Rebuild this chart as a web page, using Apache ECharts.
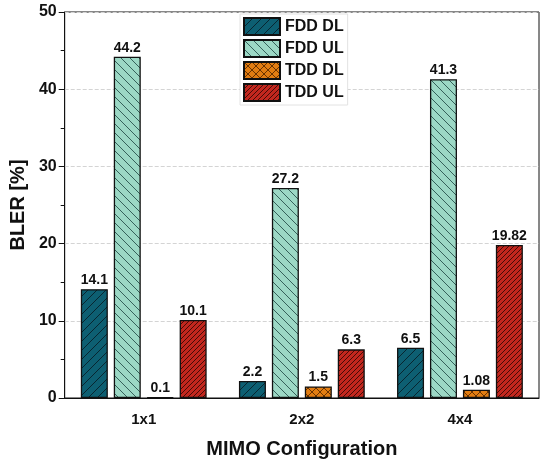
<!doctype html>
<html>
<head>
<meta charset="UTF-8">
<title>BLER</title>
<script src="https://cdn.jsdelivr.net/npm/echarts@6/dist/echarts.min.js"></script>
<style>
  html, body { margin: 0; padding: 0; background: #fff; }
  #chart { width: 550px; height: 466px; }
</style>
</head>
<body>
<div id="chart"></div>
<script>
// data
var categories = ['1x1', '2x2', '4x4'];
var seriesNames = ['FDD DL', 'FDD UL', 'TDD DL', 'TDD UL'];
var fddDl = [14.1, 2.2, 6.5];
var fddUl = [44.2, 27.2, 41.3];
var tddDl = [0.1, 1.5, 1.08];
var tddUl = [10.1, 6.3, 19.82];

// hatch tiles drawn on small canvases
function hatch(bg, line, size, dir) {
  var c = document.createElement('canvas');
  c.width = size; c.height = size;
  var g = c.getContext('2d');
  g.fillStyle = bg;
  g.fillRect(0, 0, size, size);
  g.strokeStyle = line;
  g.lineWidth = 1;
  function fwd() {
    g.beginPath();
    g.moveTo(-1, size + 1); g.lineTo(size + 1, -1);
    g.moveTo(-1, 1); g.lineTo(1, -1);
    g.moveTo(size - 1, size + 1); g.lineTo(size + 1, size - 1);
    g.stroke();
  }
  function back() {
    g.beginPath();
    g.moveTo(-1, -1); g.lineTo(size + 1, size + 1);
    g.moveTo(size - 1, -1); g.lineTo(size + 1, 1);
    g.moveTo(-1, size - 1); g.lineTo(1, size + 1);
    g.stroke();
  }
  if (dir === 'fwd' || dir === 'cross') fwd();
  if (dir === 'back' || dir === 'cross') back();
  return { image: c, repeat: 'repeat' };
}

var fills = [
  hatch('#0d5f72', '#082630', 9, 'fwd'),
  hatch('#9cd8c5', '#35615a', 9, 'back'),
  hatch('#e27d12', '#6b3400', 8, 'cross'),
  hatch('#c2271e', '#460b07', 5, 'fwd')
];
var values = [fddDl, fddUl, tddDl, tddUl];

var font = 'Liberation Sans, Arial, sans-serif';
var chart = echarts.init(document.getElementById('chart'));

var series = seriesNames.map(function (n, i) {
  return {
    name: n,
    type: 'bar',
    data: values[i],
    barWidth: 27,
    barGap: '22%',
    itemStyle: { color: fills[i], borderColor: '#111', borderWidth: 1.3 },
    label: {
      show: true, position: 'top', distance: 2,
      color: '#111', fontFamily: font, fontWeight: 'bold', fontSize: 14
    }
  };
});

chart.setOption({
  animation: false,
  grid: { left: 60, right: 11, top: 12, bottom: 68, show: true, borderColor: '#111', borderWidth: 1 },
  legend: {
    data: seriesNames,
    orient: 'vertical',
    left: 240, top: 14,
    backgroundColor: '#fff',
    borderColor: '#e2e2e2', borderWidth: 1,
    padding: [3, 4, 3, 3],
    itemGap: 3, itemWidth: 36, itemHeight: 17,
    icon: 'rect',
    textStyle: { fontFamily: font, fontWeight: 'bold', fontSize: 16, color: '#111' }
  },
  xAxis: [{
    type: 'category',
    data: categories,
    name: 'MIMO Configuration',
    nameLocation: 'middle',
    nameGap: 41,
    nameTextStyle: { fontFamily: font, fontWeight: 'bold', fontSize: 20, color: '#111' },
    axisLine: { lineStyle: { color: '#111', width: 1 } },
    axisTick: { alignWithLabel: true, length: 6, lineStyle: { color: '#111' } },
    axisLabel: { margin: 14, fontFamily: font, fontWeight: 'bold', fontSize: 15, color: '#111' }
  }, {
    type: 'category',
    data: categories,
    position: 'bottom',
    axisLine: { show: false },
    axisTick: { alignWithLabel: false, length: 4, lineStyle: { color: '#111' } },
    axisLabel: { show: false }
  }],
  yAxis: {
    type: 'value',
    min: 0, max: 50, interval: 10,
    name: 'BLER [%]',
    nameLocation: 'middle',
    nameGap: 28,
    nameTextStyle: { fontFamily: font, fontWeight: 'bold', fontSize: 20, color: '#111' },
    axisLine: { show: true, lineStyle: { color: '#111', width: 1 } },
    axisTick: { show: true, length: 6, lineStyle: { color: '#111' } },
    minorTick: { show: true, splitNumber: 2, length: 4, lineStyle: { color: '#111' } },
    splitLine: { lineStyle: { color: '#d4d4d4', type: 'dashed', width: 1 } },
    axisLabel: { margin: 8, fontFamily: font, fontWeight: 'bold', fontSize: 16, color: '#111' }
  },
  series: series
});
</script>
</body>
</html>
